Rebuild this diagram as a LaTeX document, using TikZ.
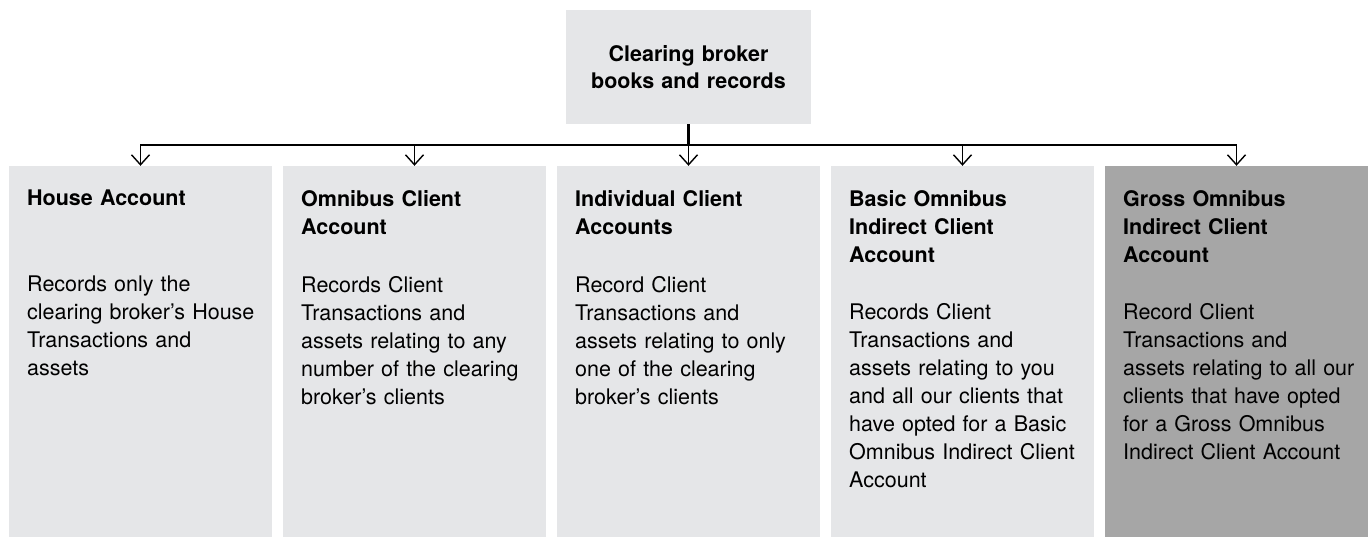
\documentclass[tikz,border=0pt]{standalone}
\usepackage{fontspec}
\setmainfont{TeX Gyre Heros}
\usetikzlibrary{arrows.meta,positioning}
\definecolor{boxgrey}{HTML}{E5E6E8}
\definecolor{darkgrey}{HTML}{A6A6A6}

\begin{document}
\begin{tikzpicture}[x=1pt,y=-1pt,
font=\fontsize{21.5}{28}\selectfont,
acct/.style={minimum width=263pt, minimum height=371pt, inner sep=0pt},
head/.style={anchor=north west, inner sep=0pt, text width=245pt, align=left,
    font=\fontsize{21.5}{28}\selectfont\bfseries},
body/.style={anchor=north west, inner sep=0pt, text width=245pt, align=left},
arr/.style={line width=1.4pt, -{Straight Barb[length=10pt,width=18pt]}}]
\useasboundingbox (0,0) rectangle (1370,537);
\node[fill=boxgrey, minimum width=245pt, minimum height=114pt, inner sep=0pt,
    text width=240pt, align=center, font=\fontsize{21.5}{26.5}\selectfont\bfseries]
    (top) at (688.5,67) {Clearing broker\\books and records};
\coordinate (split) at (688.5,145);
\draw[line width=2.4pt] (top.south) -- (split);
\foreach \n/\hd/\bd/\by/\col [count=\i from 0] in {
  house/{House Account}/{Records only the\\clearing broker's House\\Transactions and\\assets}/276/boxgrey,
  omni/{Omnibus Client\\Account}/{Records Client\\Transactions and\\assets relating to any\\number of the clearing\\broker's clients}/276/boxgrey,
  indiv/{Individual Client\\Accounts}/{Record Client\\Transactions and\\assets relating to only\\one of the clearing\\broker's clients}/276/boxgrey,
  basic/{Basic Omnibus\\Indirect Client\\Account}/{Records Client\\Transactions and\\assets relating to you\\and all our clients that\\have opted for a Basic\\Omnibus Indirect Client\\Account}/303/boxgrey,
  gross/{Gross Omnibus\\Indirect Client\\Account}/{Record Client\\Transactions and\\assets relating to all our\\clients that have opted\\for a Gross Omnibus\\Indirect Client Account}/303/darkgrey}{
  \node[acct, fill=\col] (\n) at (140.5+274*\i, 351.5) {};
  \node[head] (\n-head) at (27+274*\i, 190) {\hd};
  \node[body] (\n-body) at (27+274*\i, \by) {\bd};
  \draw[arr] (split) -| (\n.north);
}
\end{tikzpicture}
\end{document}
